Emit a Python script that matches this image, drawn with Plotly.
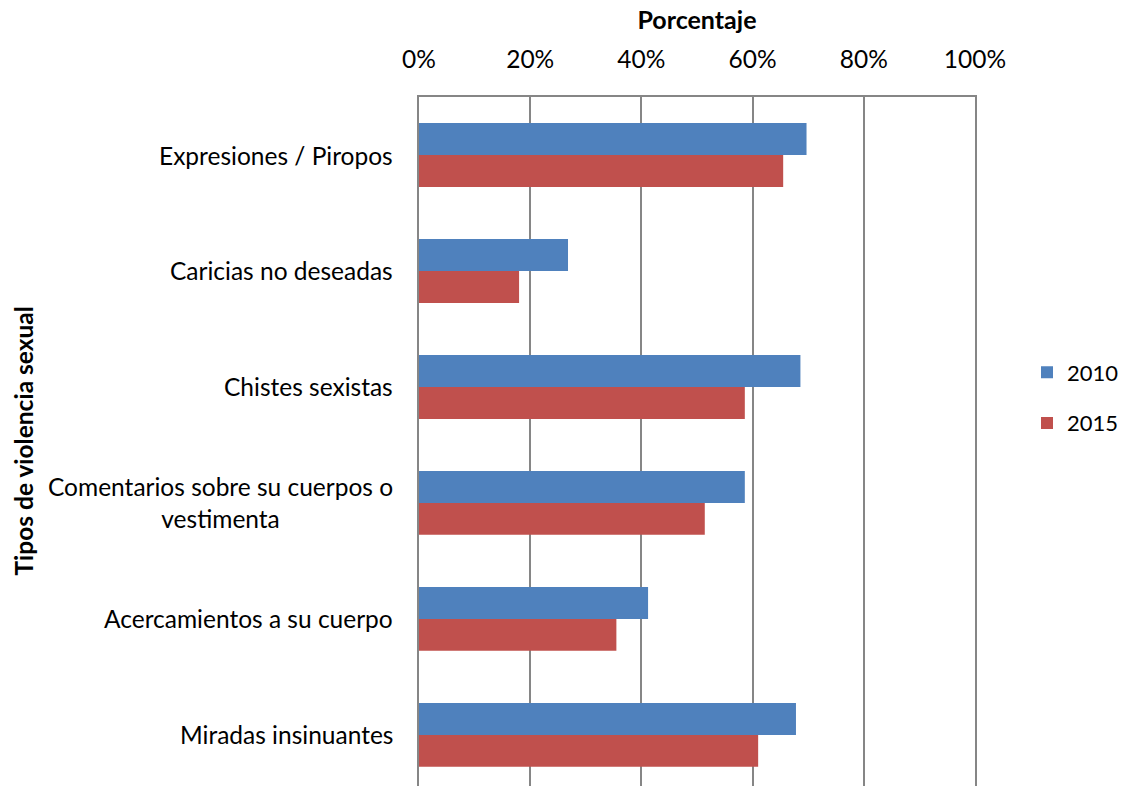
import plotly.graph_objects as go

categories = [
    "Expresiones / Piropos",
    "Caricias no deseadas",
    "Chistes sexistas",
    "Comentarios sobre su cuerpos o<br>vestimenta",
    "Acercamientos a su cuerpo",
    "Miradas insinuantes",
]
values_2010 = [69.7, 26.8, 68.6, 58.6, 41.2, 67.8]
values_2015 = [65.5, 18.0, 58.6, 51.4, 35.5, 61.0]
series_names = ["2010", "2015"]
tick_vals = [0, 20, 40, 60, 80, 100]
tick_text = ["0%", "20%", "40%", "60%", "80%", "100%"]

FONT = "Lato"
BLUE = "#4F81BD"
RED = "#C0504D"
GRID = "#868686"

fig = go.Figure()
fig.add_trace(go.Bar(y=categories, x=values_2010, name=series_names[0], orientation="h",
                     marker=dict(color=BLUE, line=dict(width=0)), legendgroup="a"))
fig.add_trace(go.Bar(y=categories, x=values_2015, name=series_names[1], orientation="h",
                     marker=dict(color=RED, line=dict(width=0)), legendgroup="b"))

W, H = 1125, 786
L, T, B = 419, 97, 0
R = W - 975
pw = W - L - R

def px_to_paper_x(px):
    return (px - L) / pw

for c in categories:
    fig.add_annotation(x=0, xref="paper", xshift=-24, xanchor="right", y=c, yref="y",
                       text=c, showarrow=False, align="center",
                       font=dict(family=FONT, size=24.5, color="#000000"))

fig.add_annotation(x=px_to_paper_x(23), xref="paper", y=0.5, yref="paper", textangle=-90,
                   text="<b>Tipos de violencia sexual</b>", showarrow=False,
                   xanchor="center", yanchor="middle", borderpad=0,
                   font=dict(family=FONT, size=24.5, color="#000000"))

fig.update_layout(
    width=W, height=H,
    margin=dict(l=L, r=R, t=T, b=B, pad=0),
    paper_bgcolor="white", plot_bgcolor="white",
    barmode="group", bargap=0.45, bargroupgap=0,
    font=dict(family=FONT, size=24, color="#000000"),
    xaxis=dict(
        side="top", range=[0, 100], tickvals=tick_vals, ticktext=tick_text,
        showgrid=True, gridcolor=GRID, gridwidth=1.5,
        showline=True, linecolor=GRID, linewidth=1.5, mirror=True,
        zeroline=False, ticks="", ticklabelstandoff=17,
        tickfont=dict(family=FONT, size=24.5),
        title=dict(text="<b>Porcentaje</b>", font=dict(family=FONT, size=25), standoff=8),
        automargin=False,
    ),
    yaxis=dict(
        categoryorder="array", categoryarray=categories,
        range=[5.44, -0.5], showticklabels=False, ticks="",
        showgrid=False, showline=True, linecolor=GRID, linewidth=1.5, mirror=True,
        zeroline=False, automargin=False,
    ),
    legend=dict(x=px_to_paper_x(1027), y=(H - 398) / (H - T), xanchor="left", yanchor="middle",
                font=dict(family=FONT, size=22), tracegroupgap=19, traceorder="grouped",
                bgcolor="rgba(0,0,0,0)", borderwidth=0),
)

fig.write_html(
    "out.html",
    config={"displayModeBar": False},
    post_script="document.body.style.margin='0';document.body.style.overflow='hidden';",
)
